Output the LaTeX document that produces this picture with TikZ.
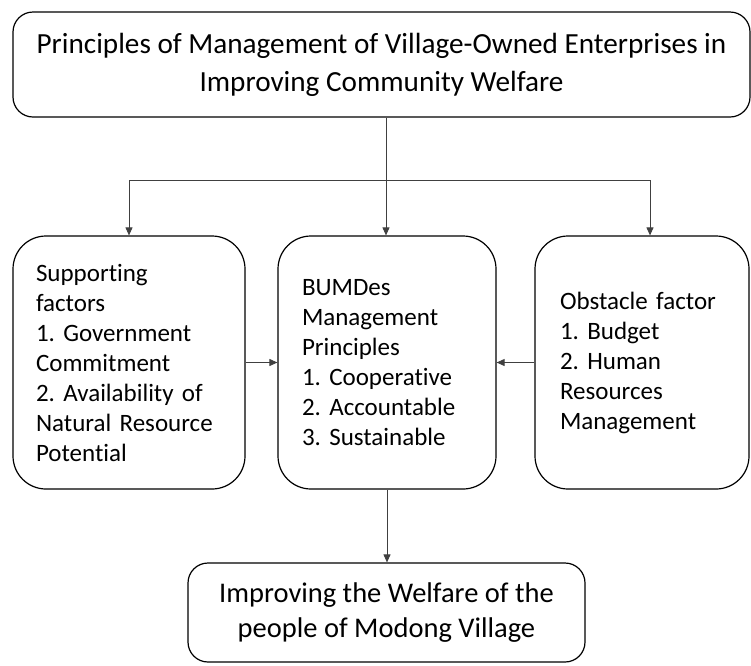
\documentclass[tikz,border=0pt]{standalone}
\usepackage{fontspec}
\setmainfont[Ligatures={NoCommon}]{Carlito}
\usetikzlibrary{arrows.meta}
\begin{document}
\frenchspacing
\begin{tikzpicture}[x=1pt,y=-1pt,
  box/.style={draw=black, line width=1.2pt, rectangle, inner ysep=0pt},
  sidebox/.style={box, rounded corners=33pt, minimum height=253pt, align=left,
    font=\fontsize{25}{30}\selectfont\frenchspacing},
  conn/.style={draw=black!75, line width=0.9pt},
  arr/.style={conn, -{Triangle[length=8pt,width=7pt]}}]
\useasboundingbox (0,0) rectangle (751,665);
\node[box, rounded corners=20pt, minimum width=737pt, minimum height=105pt, align=center,
  font=\fontsize{29.2}{38}\selectfont\frenchspacing] (top) at (381.5,64.5)
  {Principles of Management of Village-Owned Enterprises in\\Improving Community Welfare};
\node[sidebox, inner xsep=23pt, text width=186pt, minimum width=232pt] (left) at (129,362.5)
  {Supporting\\factors\\1. Government\\Commitment\\2. Availability of\\Natural Resource\\Potential};
\node[sidebox, inner xsep=24pt, text width=170pt, minimum width=218pt] (mid) at (387,362.5)
  {BUMDes\\Management\\Principles\\1. Cooperative\\2. Accountable\\3. Sustainable};
\node[sidebox, inner xsep=25pt, text width=164pt, minimum width=214pt] (right) at (642,362.5)
  {Obstacle factor\\1. Budget\\2. Human\\Resources\\Management};
\node[box, rounded corners=20pt, minimum width=397pt, minimum height=99pt, align=center,
  font=\fontsize{28.5}{35}\selectfont\frenchspacing] (bottom) at (386.5,612.5)
  {Improving the Welfare of the\\people of Modong Village};
\coordinate (j) at (386,180);
\coordinate (rj) at (650,180);
\draw[conn] (top.south -| j) -- (j);
\draw[arr] (j) -| (left.north);
\draw[arr] (j) -- (j |- mid.north);
\draw[arr] (j) -- (rj) -- (rj |- right.north);
\draw[arr] (left.east) -- (mid.west);
\draw[arr] (right.west) -- (mid.east);
\draw[arr] (mid.south) -- (mid.south |- bottom.north);
\end{tikzpicture}
\end{document}
